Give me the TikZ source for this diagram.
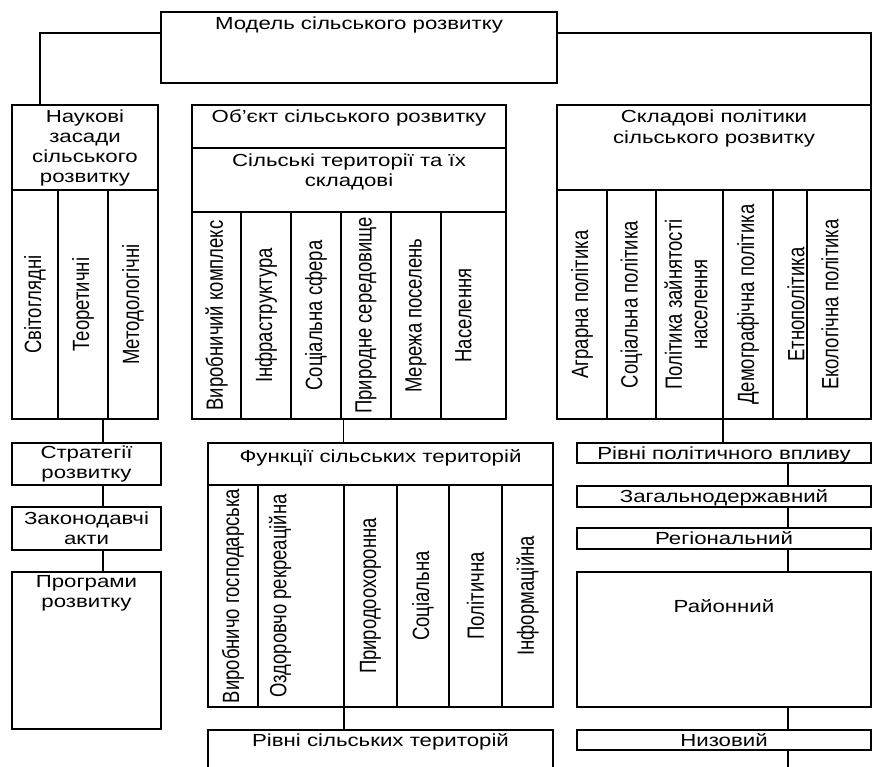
\documentclass[tikz,border=0pt]{standalone}
\usepackage{fontspec}
\setmainfont{Liberation Sans}[FakeStretch=1.27]
\newfontfamily\upfont{Liberation Sans}
\usetikzlibrary{positioning}

\newcommand{\hfnt}{\fontsize{17.5}{20}\selectfont}
\newcommand{\vtxt}[1]{\scalebox{1.27}[1]{\rotatebox{90}{\fontsize{18.5}{20}\upfont #1}}}

\begin{document}
\begin{tikzpicture}[x=1pt, y=-1pt, line width=1.3pt,
    every node/.style={font=\hfnt},
    box/.style={draw, inner sep=0pt, outer sep=0pt, align=center, anchor=north west},
    thin/.style={box, text height=15pt, text depth=3pt},
    lbl/.style={anchor=north, inner sep=4pt, align=center}]
    \useasboundingbox (0,0) rectangle (873,767);

    % model
    \node[box, minimum width=396pt, minimum height=71pt, label={[lbl]north:Модель сільського розвитку}] (model) at (161,12) {};

    % scientific grounds
    \node[box, minimum width=146pt, minimum height=85pt] (nauk) at (12,105) {Наукові\\засади\\сільського\\розвитку};
    \node[box, minimum width=46pt, minimum height=229pt] (nk1) at (12,190) {\vtxt{Світоглядні}};
    \node[box, minimum width=50pt, minimum height=229pt, right=0pt of nk1] (nk2) {\vtxt{Теоретичні}};
    \node[box, minimum width=50pt, minimum height=229pt, right=0pt of nk2] (nk3) {\vtxt{Методологічні}};

    \node[box, minimum width=149pt, minimum height=42pt] (strat) at (12,443) {Стратегії\\розвитку};
    \node[box, minimum width=149pt, minimum height=43pt, below=22pt of strat] (zakon) {Законодавчі\\акти};
    \node[box, minimum width=149pt, minimum height=157pt, below=22pt of zakon, label={[lbl, inner sep=3pt]north:Програми\\розвитку}] (prog) {};

    % object
    \node[box, minimum width=314pt, minimum height=43pt, label={[lbl]north:Об’єкт сільського розвитку}] (obj) at (192,105) {};
    \node[box, minimum width=314pt, minimum height=64pt, below=0pt of obj, label={[lbl, inner sep=5pt]north:Сільські території та їх\\складові}] (terr) {};
    \node[box, minimum width=49pt, minimum height=207pt] (ob1) at (192,212) {\vtxt{Виробничий комплекс}};
    \node[box, minimum width=50pt, minimum height=207pt, right=0pt of ob1] (ob2) {\vtxt{Інфраструктура}};
    \node[box, minimum width=50pt, minimum height=207pt, right=0pt of ob2] (ob3) {\vtxt{Соціальна сфера}};
    \node[box, minimum width=50pt, minimum height=207pt, right=0pt of ob3] (ob4) {\vtxt{Природне середовище}};
    \node[box, minimum width=50pt, minimum height=207pt, right=0pt of ob4] (ob5) {\vtxt{Мережа поселень}};
    \node[box, minimum width=65pt, minimum height=207pt, right=0pt of ob5] (ob6) {\vtxt{Населення}\hspace{20pt}};

    \node[box, minimum width=345pt, minimum height=42pt, label={[lbl, inner sep=6pt]north:Функції сільських територій}] (func) at (208,443) {};
    \node[box, minimum width=50pt, minimum height=222pt] (fn1) at (208,485) {\vtxt{Виробничо господарська}};
    \node[box, minimum width=86pt, minimum height=222pt, right=0pt of fn1] (fn2) {\vtxt{Оздоровчо рекреаційна}\hspace{42pt}};
    \node[box, minimum width=53pt, minimum height=222pt, right=0pt of fn2] (fn3) {\vtxt{Природоохоронна}};
    \node[box, minimum width=52pt, minimum height=222pt, right=0pt of fn3] (fn4) {\vtxt{Соціальна}};
    \node[box, minimum width=53pt, minimum height=222pt, right=0pt of fn4] (fn5) {\vtxt{Політична}};
    \node[box, minimum width=51pt, minimum height=222pt, right=0pt of fn5] (fn6) {\vtxt{Інформаційна}};
    \node[box, minimum width=345pt, minimum height=50pt, label={[lbl, inner sep=3pt]north:Рівні сільських територій}] (rsil) at (208,730) {};

    % policy
    \node[box, minimum width=314pt, minimum height=85pt, label={[lbl]north:Складові політики\\[1pt]сільського розвитку}] (sklad) at (557,105) {};
    \node[box, minimum width=50pt, minimum height=229pt] (sk1) at (557,190) {\vtxt{Аграрна політика}};
    \node[box, minimum width=49pt, minimum height=229pt, right=0pt of sk1] (sk2) {\vtxt{Соціальна політика}};
    \node[box, minimum width=67pt, minimum height=229pt, right=0pt of sk2] (sk3) {\vtxt{\begin{tabular}{@{}c@{}}Політика зайнятості\\населення\end{tabular}}};
    \node[box, minimum width=50pt, minimum height=229pt, right=0pt of sk3] (sk4) {\vtxt{Демографічна політика}};
    \node[box, minimum width=34pt, minimum height=229pt, right=0pt of sk4] (sk5) {\hspace{12pt}\vtxt{Етнополітика}};
    \node[box, minimum width=64pt, minimum height=229pt, right=0pt of sk5] (sk6) {\vtxt{Екологічна політика}\hspace{18pt}};

    \node[thin, minimum width=294pt, minimum height=20pt] (rp) at (577,443) {Рівні політичного впливу};
    \node[thin, minimum width=294pt, minimum height=21pt, below=23pt of rp] (zag) {Загальнодержавний};
    \node[thin, minimum width=294pt, minimum height=21pt, below=21pt of zag] (reg) {Регіональний};
    \node[box, minimum width=294pt, minimum height=135pt, below=23pt of reg, label={[lbl, yshift=-23pt]north:Районний}] (ray) {};
    \node[thin, minimum width=294pt, minimum height=20pt, below=23pt of ray] (nyz) {Низовий};

    % connectors
    \coordinate (lx) at (103,0);
    \coordinate (mx) at (343.5,0);
    \coordinate (rx) at (788,0);
    \coordinate (bot) at (788,767);
    \draw ([yshift=-21pt]model.north west) -| ([xshift=28pt]nauk.north west);
    \draw ([yshift=-21pt]model.north east) -| (sklad.north east);
    \draw (nk3.south -| lx) -- (strat.north -| lx);
    \draw (strat.south -| lx) -- (zakon.north -| lx);
    \draw (zakon.south -| lx) -- (prog.north -| lx);
    \draw (ob4.south -| mx) -- (func.north -| mx);
    \draw (fn3.south west) -- (rsil.north -| fn3.south west);
    \draw (sk4.south west) -- (rp.north -| sk4.south west);
    \draw (rp.south -| rx) -- (zag.north -| rx);
    \draw (zag.south -| rx) -- (reg.north -| rx);
    \draw (reg.south -| rx) -- (ray.north -| rx);
    \draw (ray.south -| rx) -- (nyz.north -| rx);
    \draw (nyz.south -| rx) -- (bot);
\end{tikzpicture}
\end{document}
